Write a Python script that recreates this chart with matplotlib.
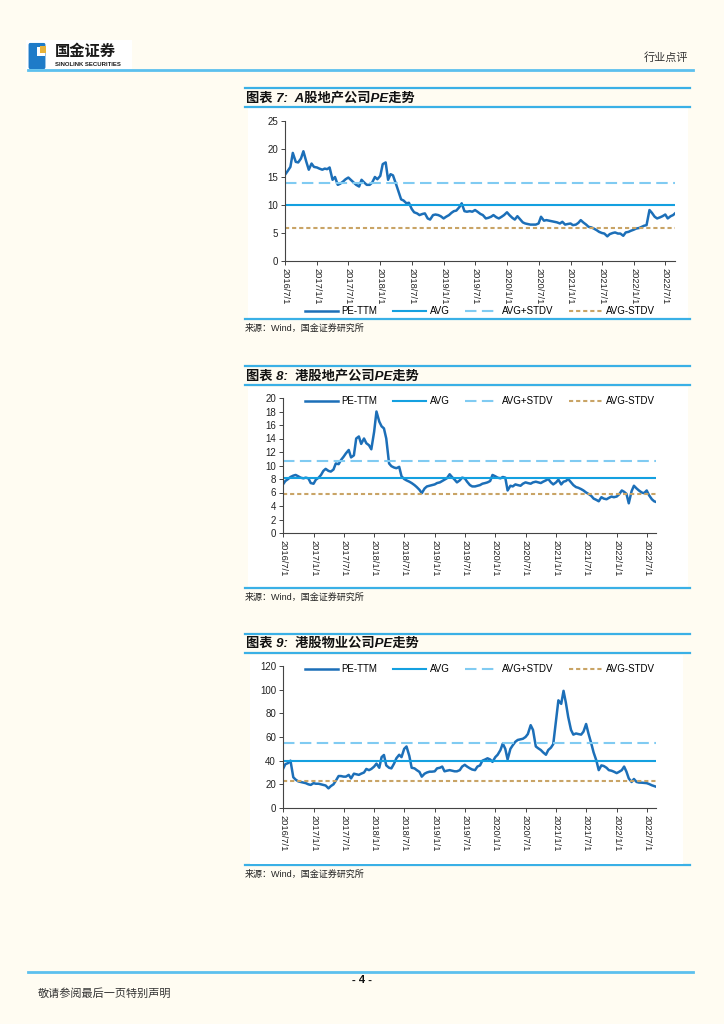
import matplotlib
matplotlib.use("Agg")
import matplotlib.pyplot as plt
from matplotlib.patches import Rectangle, FancyBboxPatch
import pandas as pd

plt.rcParams['font.family'] = ['Liberation Sans', 'Noto Sans CJK SC', 'DejaVu Sans']

W, H = 724, 1024
BG = '#FFFCF2'
RULE = '#3AB0E6'
PE_COLOR = '#1C6FB8'
AVG_COLOR = '#14A0E0'
UP_COLOR = '#80CBF2'
DN_COLOR = '#C9A466'

# semi-monthly sample dates
dates = list(pd.date_range('2016-07-01', '2022-08-15', freq='SMS')) + [pd.Timestamp('2022-08-26')]
tick_dates = list(pd.date_range('2016-07-01', '2022-07-01', freq='6MS'))
tick_labels = [f"{d.year}/{d.month}/1" for d in tick_dates]

# chart 7: A-share property PE
a_pe = [15.4, 16.0, 16.8, 19.3, 17.7, 17.6, 18.3, 19.6, 17.7, 16.3, 17.4, 16.8,
        16.7, 16.5, 16.3, 16.5, 16.4, 16.7, 14.5, 15.0, 13.6, 13.8, 14.2, 14.6,
        14.9, 14.5, 14.0, 13.6, 13.3, 14.5, 14.0, 13.6, 13.6, 14.0, 15.0, 14.6,
        15.2, 17.3, 17.6, 14.5, 15.5, 15.3, 13.8, 12.5, 11.0, 10.8, 10.3, 10.4,
        9.3, 8.7, 8.5, 8.2, 8.4, 8.5, 7.6, 7.4, 8.2, 8.3, 8.2, 8.0,
        7.6, 7.9, 8.2, 8.6, 8.9, 9.0, 9.6, 10.3, 8.9, 8.8, 8.9, 8.8,
        9.1, 8.8, 8.4, 8.2, 7.6, 7.7, 7.9, 8.2, 7.8, 7.6, 7.9, 8.2,
        8.7, 8.2, 7.7, 7.4, 8.0, 7.5, 6.9, 6.7, 6.6, 6.5, 6.5, 6.5,
        6.7, 7.9, 7.2, 7.3, 7.2, 7.1, 7.0, 6.9, 6.7, 7.0, 6.5, 6.6,
        6.7, 6.4, 6.5, 6.8, 7.3, 6.9, 6.5, 6.1, 6.0, 5.8, 5.5, 5.2,
        5.0, 4.9, 4.4, 4.8, 5.0, 5.1, 4.9, 4.9, 4.5, 5.1, 5.2, 5.4,
        5.6, 5.8, 5.9, 6.1, 6.3, 6.4, 9.1, 8.6, 7.9, 7.6, 7.8, 8.0,
        8.3, 7.6, 8.0, 8.2, 8.5]
a_avg, a_up, a_dn = 10.0, 14.0, 5.9

# chart 8: HK property PE
hk_prop_pe = [7.2, 7.7, 8.0, 8.3, 8.5, 8.6, 8.4, 8.2, 8.1, 8.2, 8.1, 7.4,
              7.3, 7.9, 8.2, 8.6, 9.2, 9.5, 9.2, 9.1, 9.4, 10.3, 10.2, 10.8,
              11.3, 11.8, 12.3, 11.2, 11.5, 14.0, 14.3, 13.2, 14.0, 13.3, 13.0, 12.4,
              15.0, 18.0, 16.5, 15.8, 15.5, 14.0, 10.3, 9.9, 9.7, 9.6, 9.8, 8.4,
              8.0, 7.8, 7.6, 7.4, 7.1, 6.8, 6.4, 5.9, 6.6, 6.9, 7.0, 7.1,
              7.2, 7.4, 7.5, 7.7, 7.9, 8.1, 8.7, 8.3, 7.9, 7.5, 7.8, 8.2,
              8.1, 7.6, 7.1, 6.9, 6.9, 7.0, 7.1, 7.3, 7.4, 7.5, 7.7, 8.6,
              8.4, 8.2, 8.1, 8.3, 8.2, 6.3, 7.0, 6.9, 7.2, 7.1, 7.0, 7.3,
              7.5, 7.4, 7.3, 7.5, 7.6, 7.5, 7.4, 7.6, 7.8, 8.0, 7.5, 7.2,
              7.5, 7.9, 7.2, 7.6, 7.7, 8.0, 7.5, 7.1, 6.8, 6.7, 6.5, 6.3,
              6.0, 5.8, 5.5, 5.1, 4.9, 4.7, 5.3, 5.1, 5.0, 5.2, 5.4, 5.3,
              5.4, 5.7, 6.3, 6.1, 5.8, 4.4, 6.2, 7.0, 6.6, 6.3, 6.0, 5.9,
              6.3, 5.6, 5.0, 4.7, 4.6]
hk_prop_avg, hk_prop_up, hk_prop_dn = 8.2, 10.6, 5.8

# chart 9: HK property management PE
hk_pm_pe = [33, 37, 38, 40, 26, 24, 22.5, 22, 21.5, 21, 20, 19.5,
            21, 20.5, 20.5, 20, 19.5, 19, 16.6, 18.5, 20, 23, 27, 27,
            26.5, 26.5, 28, 25, 29, 28.5, 28, 29, 30, 33, 32, 33,
            35, 37.5, 34, 43, 44.8, 36, 34, 33.5, 37.5, 42, 45, 43,
            50, 52, 44, 34, 33.5, 32, 30.5, 26.5, 29, 30, 30.7, 30.7,
            31, 33.5, 34, 35, 31, 31.5, 32, 31.5, 31, 31, 32, 35,
            36.5, 35, 33.5, 32.5, 32, 35, 36, 40, 41, 42, 41, 39,
            43, 45, 49, 54.5, 50, 41, 50, 53, 56, 57.5, 58, 58.5,
            60, 62.5, 70, 66, 52, 50.5, 49, 47, 45, 49, 51, 54,
            74, 91, 88, 99, 89, 77, 66, 62, 63, 62.5, 62, 64.5,
            71, 63, 54.6, 47, 40, 32, 36, 35.5, 34, 32, 31.5, 30.7,
            29.5, 30.5, 32, 35, 30.7, 25, 22, 24.5, 22, 21.5, 21.4, 21.2,
            21, 20.3, 19.2, 18.5, 18]
hk_pm_avg, hk_pm_up, hk_pm_dn = 39.6, 55.2, 23.0

series_names = ['PE-TTM', 'AVG', 'AVG+STDV', 'AVG-STDV']


def fx(x):
    return x / W


def fy(y):
    return 1 - y / H


fig = plt.figure(figsize=(W / 100, H / 100), dpi=100, facecolor=BG)


def hline(y, x0, x1, lw=1.6, color=RULE, z=1):
    fig.add_artist(plt.Line2D([fx(x0), fx(x1)], [fy(y), fy(y)], color=color, lw=lw,
                              transform=fig.transFigure, zorder=z))


LEG_KW = dict(ncol=4, frameon=False, fontsize=7, handlelength=3.4, columnspacing=1.6,
              handletextpad=0.4)


def panel(rect, box, values, avg, up, dn, ymax, ystep, title, top, bottom, leg_y, box_over=False):
    # white chart area
    hline(top, 245, 690)
    hline(top + 19, 245, 690)
    hline(bottom, 245, 690)
    fig.add_artist(Rectangle((fx(box[0]), fy(box[3])), fx(box[2] - box[0]), (box[3] - box[1]) / H,
                             facecolor='white', edgecolor='none', transform=fig.transFigure,
                             zorder=2 if box_over else 0))
    fig.text(fx(246), fy(top + 10), title, fontsize=9.5, fontweight='bold', fontstyle='italic',
             va='center', ha='left', color='#111111')
    fig.text(fx(245), fy(bottom + 9), '来源：Wind，国金证券研究所', fontsize=6.5,
             va='center', ha='left', color='#222222')

    ax = fig.add_axes([fx(rect[0]), fy(rect[3]), fx(rect[2] - rect[0]), (rect[3] - rect[1]) / H])
    ax.set_zorder(3)
    ax.set_facecolor('none')
    ax.plot(dates, values, color=PE_COLOR, lw=1.8, label=series_names[0])
    ax.axhline(avg, color=AVG_COLOR, lw=1.5, label=series_names[1])
    ax.axhline(up, color=UP_COLOR, lw=1.5, dashes=(5.5, 2.6), label=series_names[2])
    ax.axhline(dn, color=DN_COLOR, lw=1.5, dashes=(2.0, 1.4), label=series_names[3])
    ax.set_xlim(dates[0], dates[-1])
    ax.set_ylim(0, ymax)
    ax.set_yticks(range(0, ymax + 1, ystep))
    ax.set_xticks(tick_dates)
    ax.set_xticklabels(tick_labels, rotation=-90, fontsize=6.7, color='#222222')
    ax.tick_params(axis='y', labelsize=7, labelcolor='#222222', length=3, width=0.7, color='#444444', pad=2)
    ax.tick_params(axis='x', length=3, width=0.7, color='#444444', pad=2)
    for s in ['top', 'right']:
        ax.spines[s].set_visible(False)
    for s in ['left', 'bottom']:
        ax.spines[s].set_color('#444444')
        ax.spines[s].set_linewidth(0.8)
    leg = fig.legend(*ax.get_legend_handles_labels(), loc='center',
                     bbox_to_anchor=(fx(480), fy(leg_y)), **LEG_KW)
    leg.set_zorder(4)
    return ax


panel((285, 121, 675, 261), (248, 108, 688, 318), a_pe, a_avg, a_up, a_dn, 25, 5,
      '图表 7:  A股地产公司PE走势', 88, 319, 311.5)
panel((283, 398, 656, 533), (248, 387, 688, 587), hk_prop_pe, hk_prop_avg, hk_prop_up, hk_prop_dn,
      20, 2, '图表 8:  港股地产公司PE走势', 366, 588, 401)
panel((283, 666, 656, 808), (250, 655, 683, 864), hk_pm_pe, hk_pm_avg, hk_pm_up, hk_pm_dn,
      120, 20, '图表 9:  港股物业公司PE走势', 634, 865, 669, box_over=True)

# header
fig.add_artist(Rectangle((fx(26), fy(70)), fx(106), 30 / H, facecolor='white', edgecolor='none',
                         transform=fig.transFigure, zorder=0))
fig.add_artist(FancyBboxPatch((fx(30), fy(67)), fx(14), 22 / H, boxstyle='round,pad=0.002',
                              facecolor='#1E7BC8', edgecolor='none', transform=fig.transFigure))
fig.add_artist(Rectangle((fx(37), fy(56)), fx(8), 9 / H, facecolor='white', edgecolor='none',
                         transform=fig.transFigure))
fig.add_artist(Rectangle((fx(40), fy(53)), fx(6), 7 / H, facecolor='#E8B33A', edgecolor='none',
                         transform=fig.transFigure))
fig.text(fx(55), fy(52), '国金证券', fontsize=11, fontweight='bold', va='center', ha='left',
         color='#1A1A1A')
fig.text(fx(55), fy(64), 'SINOLINK SECURITIES', fontsize=4.3, fontweight='bold', va='center',
         ha='left', color='#1A1A1A')
fig.text(fx(688), fy(58), '行业点评', fontsize=8, va='center', ha='right', color='#333333')
hline(70, 28, 693, lw=2.0, color='#5CC0EE')

# footer
hline(972, 28, 693, lw=2.0, color='#5CC0EE')
fig.text(fx(362), fy(980), '- 4 -', fontsize=8, fontweight='bold', va='center', ha='center',
         color='#111111')
fig.text(fx(38), fy(994), '敬请参阅最后一页特别声明', fontsize=8, va='center', ha='left', color='#333333')

fig.savefig('out.png', dpi=100, facecolor=BG)
